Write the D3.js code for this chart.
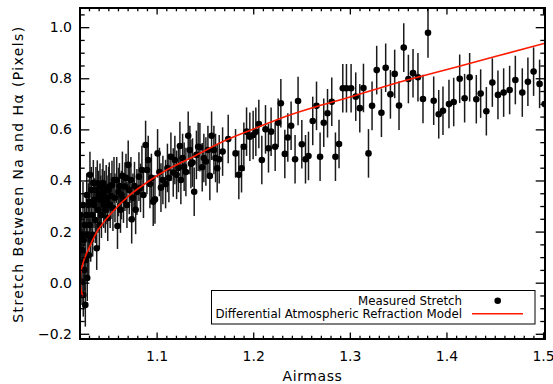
<!DOCTYPE html>
<html>
<head>
<meta charset="utf-8">
<script src="https://cdn.jsdelivr.net/npm/d3@7"></script>
<style>
body { margin: 0; background: #fff; }
text { font-family: "DejaVu Sans", sans-serif; fill: #000; }
</style>
</head>
<body>
<script>

var airmass = [
  1.0212,1.0217,1.0223,1.0228,1.0233,1.0238,1.0241,1.0246,1.0251,1.0256,
  1.0262,1.0267,1.0272,1.0277,1.0282,1.0288,1.0293,1.0298,1.0303,1.0308,
  1.0310,1.0318,1.0324,1.0331,1.0338,1.0345,1.0352,1.0359,1.0365,1.0372,
  1.0380,1.0386,1.0393,1.0400,1.0407,1.0414,1.0422,1.0429,1.0438,1.0445,
  1.0453,1.0461,1.0470,1.0478,1.0486,1.0494,1.0503,1.0510,1.0519,1.0528,
  1.0538,1.0548,1.0559,1.0569,1.0587,1.0595,1.0605,1.0615,1.0626,1.0636,
  1.0646,1.0657,1.0672,1.0683,1.0693,1.0706,1.0717,1.0734,1.0742,1.0755,
  1.0771,1.0783,1.0796,1.0817,1.0833,1.0848,1.0864,1.0886,1.0900,1.0913,
  1.0931,1.0946,1.0965,1.0983,1.1010,1.1029,1.1045,1.1065,1.1093,1.1112,
  1.1127,1.1148,1.1172,1.1189,1.1207,1.1226,1.1241,1.1251,1.1269,1.1285,
  1.1303,1.1327,1.1344,1.1355,1.1372,1.1389,1.1412,1.1430,1.1448,1.1472,
  1.1489,1.1510,1.1531,1.1551,1.1569,1.1593,1.1610,1.1627,1.1648,1.1683,
  1.1741,1.1817,1.1851,1.1879,1.1903,1.1931,1.1965,1.1999,1.2027,1.2058,
  1.2089,1.2127,1.2158,1.2185,1.2227,1.2258,1.2286,1.2327,1.2358,1.2392,
  1.2433,1.2464,1.2503,1.2541,1.2572,1.2616,1.2655,1.2692,1.2730,1.2769,
  1.2813,1.2851,1.2888,1.2927,1.2965,1.3013,1.3061,1.3103,1.3141,1.3193,
  1.3230,1.3278,1.3327,1.3371,1.3420,1.3464,1.3509,1.3558,1.3606,1.3654,
  1.3705,1.3757,1.3809,1.3868,1.3920,1.3964,1.4026,1.4075,1.4137,1.4188,
  1.4240,1.4309,1.4354,1.4413,1.4475,1.4533,1.4592,1.4654,1.4713,1.4785,
  1.4843,1.4902,1.4964,1.5016
];
var stretch = [
  0.265,0.081,0.187,0.003,0.128,0.304,-0.048,0.167,0.050,0.226,
  -0.087,0.089,0.265,0.343,0.018,0.187,0.304,0.108,0.317,0.226,
  0.422,0.167,0.363,0.265,0.187,0.390,0.304,0.324,0.245,0.363,
  0.135,0.389,0.285,0.343,0.226,0.376,0.324,0.265,0.355,0.390,
  0.304,0.343,0.285,0.371,0.324,0.253,0.363,0.376,0.304,0.339,
  0.382,0.292,0.402,0.332,0.402,0.222,0.355,0.378,0.285,0.343,
  0.418,0.324,0.376,0.410,0.304,0.461,0.363,0.402,0.248,0.332,
  0.378,0.285,0.355,0.415,0.371,0.441,0.343,0.539,0.441,0.480,
  0.386,0.410,0.317,0.326,0.506,0.433,0.372,0.402,0.386,0.449,
  0.410,0.493,0.431,0.480,0.422,0.449,0.535,0.402,0.488,0.454,
  0.433,0.575,0.519,0.465,0.470,0.356,0.500,0.532,0.530,0.452,
  0.488,0.474,0.519,0.418,0.575,0.519,0.488,0.448,0.483,0.513,
  0.562,0.506,0.422,0.448,0.532,0.591,0.571,0.578,0.591,0.621,
  0.480,0.600,0.526,0.591,0.532,0.626,0.702,0.504,0.568,0.614,
  0.483,0.711,0.542,0.483,0.496,0.633,0.692,0.493,0.626,0.663,
  0.708,0.493,0.543,0.761,0.761,0.761,0.728,0.683,0.762,0.506,
  0.692,0.832,0.665,0.841,0.737,0.817,0.693,0.920,0.797,0.820,
  0.804,0.719,0.978,0.712,0.659,0.673,0.699,0.707,0.798,0.722,
  0.804,0.718,0.740,0.671,0.783,0.735,0.744,0.754,0.793,0.744,
  0.786,0.826,0.778,0.699
];
var stretchErr = [
  0.085,0.090,0.085,0.090,0.085,0.090,0.085,0.090,0.085,0.085,
  0.085,0.090,0.090,0.085,0.090,0.090,0.085,0.090,0.090,0.085,
  0.090,0.085,0.090,0.090,0.085,0.090,0.090,0.085,0.090,0.090,
  0.085,0.090,0.090,0.095,0.090,0.090,0.095,0.090,0.090,0.095,
  0.090,0.095,0.090,0.090,0.095,0.090,0.090,0.095,0.090,0.090,
  0.095,0.090,0.090,0.095,0.090,0.090,0.095,0.090,0.090,0.095,
  0.095,0.090,0.095,0.095,0.090,0.095,0.095,0.090,0.095,0.095,
  0.095,0.095,0.090,0.095,0.095,0.095,0.090,0.095,0.095,0.095,
  0.095,0.095,0.095,0.095,0.095,0.095,0.095,0.095,0.095,0.095,
  0.095,0.095,0.095,0.095,0.095,0.095,0.095,0.095,0.095,0.095,
  0.095,0.095,0.095,0.095,0.095,0.095,0.095,0.095,0.095,0.095,
  0.095,0.095,0.095,0.095,0.095,0.095,0.095,0.095,0.095,0.095,
  0.095,0.095,0.095,0.095,0.095,0.095,0.095,0.095,0.095,0.095,
  0.095,0.095,0.095,0.095,0.095,0.095,0.095,0.095,0.095,0.095,
  0.095,0.095,0.095,0.095,0.095,0.095,0.095,0.095,0.095,0.095,
  0.095,0.095,0.095,0.095,0.095,0.095,0.095,0.095,0.095,0.095,
  0.095,0.095,0.095,0.095,0.095,0.095,0.095,0.095,0.095,0.095,
  0.095,0.095,0.098,0.095,0.095,0.095,0.095,0.095,0.095,0.095,
  0.095,0.095,0.095,0.095,0.095,0.095,0.095,0.095,0.095,0.095,
  0.095,0.095,0.095,0.095
];

var modelAirmass = [1.0238,1.0218,1.0211,1.0214,1.0248,1.0307,1.0393,1.0531,1.0703,1.0910,
                    1.1117,1.1379,1.1724,1.2068,1.2379,1.2690,1.2960,1.3414,1.4171,1.5020];
var modelStretch = [-0.055,-0.028,0.005,0.037,0.089,0.141,0.206,0.272,0.337,0.395,
                    0.444,0.493,0.559,0.611,0.656,0.693,0.722,0.774,0.851,0.937];

var xTicks = [1.1, 1.2, 1.3, 1.4, 1.5];
var yTicks = [-0.2, 0.0, 0.2, 0.4, 0.6, 0.8, 1.0];
var legendLabels = ['Measured Stretch', 'Differential Atmospheric Refraction Model'];

var W = 553, H = 384;
var pL = 80, pR = 545, pT = 8, pB = 339;

var svg = d3.select('body').append('svg')
      .attr('width', W)
      .attr('height', H);

var x = d3.scaleLinear().domain([1.0207, 1.502]).range([pL, pR]);
var y = d3.scaleLinear().domain([-0.2204, 1.075]).range([pB, pT]);

var xMinor = d3.range(103, 151).filter(function(d) { return d % 10 != 0; }).map(function(d) { return d / 100; });
var yMinor = d3.range(-4, 22).filter(function(d) { return d % 4 != 0; }).map(function(d) { return d * 0.05; });

svg.append('clipPath').attr('id', 'plotclip')
    .append('rect')
    .attr('x', pL).attr('y', pT)
    .attr('width', pR - pL).attr('height', pB - pT);

var plot = svg.append('g').attr('clip-path', 'url(#plotclip)');

var obs = airmass.map(function(a, i) { return {a: a, s: stretch[i], e: stretchErr[i]}; });

plot.selectAll('.errbar')
    .data(obs)
  .enter().append('line')
    .attr('class', 'errbar')
    .attr('x1', function(d) { return x(d.a); })
    .attr('x2', function(d) { return x(d.a); })
    .attr('y1', function(d) { return y(d.s - d.e); })
    .attr('y2', function(d) { return y(d.s + d.e); })
    .attr('stroke', '#1a1a1a')
    .attr('stroke-width', 1.5);

plot.selectAll('.pt')
    .data(obs)
  .enter().append('circle')
    .attr('class', 'pt')
    .attr('cx', function(d) { return x(d.a); })
    .attr('cy', function(d) { return y(d.s); })
    .attr('r', 3.3)
    .attr('fill', '#000');

var model = modelAirmass.map(function(a, i) { return [a, modelStretch[i]]; });

plot.append('path')
    .datum(model)
    .attr('d', d3.line()
        .x(function(d) { return x(d[0]); })
        .y(function(d) { return y(d[1]); })
        .curve(d3.curveCatmullRom))
    .attr('fill', 'none')
    .attr('stroke', '#ff1a00')
    .attr('stroke-width', 1.6);

// axes: ticks point inwards on all four sides
function styleAxis(g) {
  g.select('.domain').remove();
  g.selectAll('line').attr('stroke', '#000').attr('stroke-width', 1.3);
  g.selectAll('text').attr('font-size', 14).attr('fill', '#000')
      .attr('font-family', '"DejaVu Sans", sans-serif');
}

svg.append('g').attr('transform', 'translate(0,' + pB + ')')
    .call(d3.axisBottom(x).tickValues(xTicks).tickSize(-6.6).tickPadding(12).tickFormat(d3.format('.1f')))
    .call(styleAxis);
svg.append('g').attr('transform', 'translate(0,' + pB + ')')
    .call(d3.axisBottom(x).tickValues(xMinor).tickSize(-3.3).tickFormat(''))
    .call(styleAxis);
svg.append('g').attr('transform', 'translate(0,' + pT + ')')
    .call(d3.axisTop(x).tickValues(xTicks).tickSize(-6.6).tickFormat(''))
    .call(styleAxis);
svg.append('g').attr('transform', 'translate(0,' + pT + ')')
    .call(d3.axisTop(x).tickValues(xMinor).tickSize(-3.3).tickFormat(''))
    .call(styleAxis);

svg.append('g').attr('transform', 'translate(' + pL + ',0)')
    .call(d3.axisLeft(y).tickValues(yTicks).tickSize(-9.3).tickPadding(8).tickFormat(d3.format('.1f')))
    .call(styleAxis);
svg.append('g').attr('transform', 'translate(' + pL + ',0)')
    .call(d3.axisLeft(y).tickValues(yMinor).tickSize(-4.7).tickFormat(''))
    .call(styleAxis);
svg.append('g').attr('transform', 'translate(' + pR + ',0)')
    .call(d3.axisRight(y).tickValues(yTicks).tickSize(-9.3).tickFormat(''))
    .call(styleAxis);
svg.append('g').attr('transform', 'translate(' + pR + ',0)')
    .call(d3.axisRight(y).tickValues(yMinor).tickSize(-4.7).tickFormat(''))
    .call(styleAxis);

svg.append('rect')
    .attr('x', pL).attr('y', pT)
    .attr('width', pR - pL).attr('height', pB - pT)
    .attr('fill', 'none')
    .attr('stroke', '#000')
    .attr('stroke-width', 2);

svg.append('text')
    .attr('x', (pL + pR) / 2)
    .attr('y', 381)
    .attr('text-anchor', 'middle')
    .attr('font-size', 14)
    .attr('fill', '#000')
    .attr('letter-spacing', 0.6)
    .text('Airmass');

svg.append('text')
    .attr('transform', 'translate(23,174) rotate(-90)')
    .attr('text-anchor', 'middle')
    .attr('font-size', 14)
    .attr('fill', '#000')
    .attr('letter-spacing', 1.4)
    .text('Stretch Between Na and H\u03b1 (Pixels)');

// legend
var lg = svg.append('g');
lg.append('rect')
    .attr('x', 211.5).attr('y', 290.5)
    .attr('width', 323.5).attr('height', 33.5)
    .attr('fill', '#fff')
    .attr('stroke', '#000')
    .attr('stroke-width', 1);

lg.selectAll('.lgtext')
    .data(legendLabels)
  .enter().append('text')
    .attr('class', 'lgtext')
    .attr('x', 462)
    .attr('y', function(d, i) { return 305 + i * 13; })
    .attr('text-anchor', 'end')
    .attr('font-size', 11.8)
    .attr('fill', '#000')
    .text(function(d) { return d; });

lg.append('circle')
    .attr('cx', 497.7).attr('cy', 300.7)
    .attr('r', 3.3)
    .attr('fill', '#000');

lg.append('line')
    .attr('x1', 472).attr('x2', 523)
    .attr('y1', 313.7).attr('y2', 313.7)
    .attr('stroke', '#ff1a00')
    .attr('stroke-width', 1.5);

</script>
</body>
</html>
